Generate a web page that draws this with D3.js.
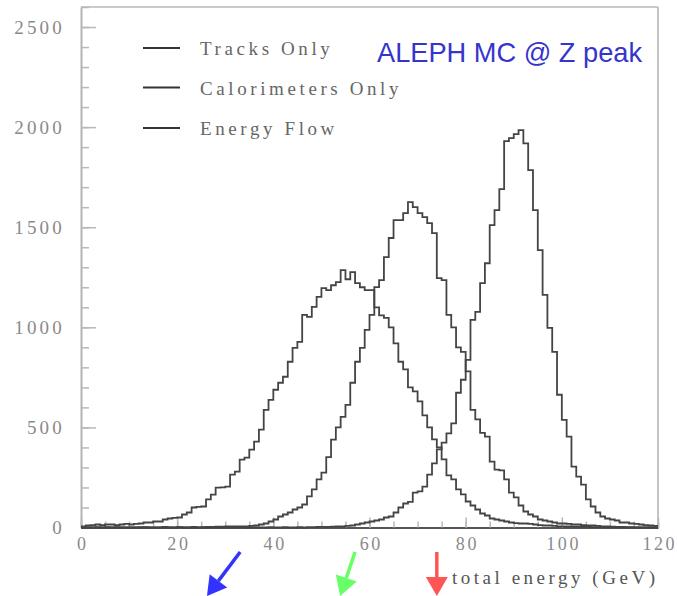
<!DOCTYPE html>
<html>
<head>
<meta charset="utf-8">
<script src="https://cdn.jsdelivr.net/npm/d3@7"></script>
<style>
  html, body { margin: 0; padding: 0; background: #fff; }
  svg { display: block; }
  .tick text { font-family: "Liberation Serif", "DejaVu Serif", serif; }
</style>
</head>
<body>
<div id="svg-container"></div>
<script>
////////////////////////////////////////////////////////////////////
//////////////////////////////  Data  ///////////////////////////////
// 1 GeV bins, 0..120 GeV
const tracksOnly = [
  5, 10, 12, 15, 12, 15, 15, 12, 15, 18,
  15, 18, 20, 25, 25, 30, 30, 40, 45, 48,
  50, 65, 75, 100, 103, 105, 140, 164, 199, 200,
  204, 264, 279, 339, 349, 389, 429, 489, 588, 638,
  688, 723, 753, 828, 897, 927, 1062, 1052, 1102, 1152,
  1196, 1186, 1210, 1226, 1286, 1240, 1276, 1221, 1200, 1186,
  1186, 1100, 1060, 1047, 1000, 920, 828, 790, 700, 680,
  630, 560, 500, 440, 400, 340, 260, 240, 190, 165,
  130, 110, 90, 70, 60, 45, 40, 35, 30, 25,
  22, 20, 20, 18, 15, 12, 10, 10, 8, 6,
  5, 5, 4, 4, 3, 3, 2, 2, 2, 1,
  1, 1, 1, 0, 0, 0, 0, 0, 0, 0
];
const calorimetersOnly = [
  0, 0, 0, 2, 0, 0, 0, 2, 0, 0,
  0, 0, 2, 0, 0, 0, 0, 3, 0, 0,
  2, 0, 0, 3, 0, 2, 3, 3, 4, 4,
  5, 5, 5, 5, 5, 8, 10, 15, 20, 30,
  40, 55, 65, 75, 90, 100, 115, 155, 190, 240,
  274, 352, 439, 500, 553, 613, 723, 828, 897, 987,
  1062, 1201, 1236, 1351, 1446, 1535, 1535, 1570, 1625, 1600,
  1570, 1550, 1520, 1470, 1246, 1236, 1062, 1000, 900, 877,
  780, 588, 540, 473, 454, 329, 289, 285, 240, 174,
  150, 110, 80, 65, 55, 40, 35, 30, 25, 20,
  20, 18, 15, 15, 12, 10, 10, 8, 6, 5,
  4, 3, 3, 2, 2, 1, 1, 1, 0, 0
];
const energyFlow = [
  0, 0, 0, 0, 0, 2, 0, 0, 0, 0,
  0, 0, 0, 2, 0, 0, 0, 0, 0, 0,
  2, 0, 0, 0, 0, 0, 0, 2, 0, 0,
  0, 0, 0, 2, 0, 0, 0, 0, 0, 2,
  0, 0, 2, 0, 0, 2, 0, 2, 2, 3,
  3, 3, 4, 5, 5, 8, 10, 15, 20, 25,
  30, 35, 40, 50, 55, 75, 100, 120, 128, 174,
  180, 204, 264, 320, 390, 424, 470, 520, 673, 738,
  837, 1037, 1077, 1221, 1320, 1510, 1585, 1690, 1930, 1945,
  1965, 1985, 1919, 1785, 1585, 1386, 1162, 997, 877, 663,
  538, 454, 304, 254, 214, 140, 105, 75, 55, 45,
  40, 35, 25, 25, 20, 18, 15, 12, 10, 8
];

const seriesNames = ["Tracks Only", "Calorimeters Only", "Energy Flow"];
const yTicks = [0, 500, 1000, 1500, 2000, 2500];
const xTicks = [0, 20, 40, 60, 80, 100, 120];
const xLabel = "total energy (GeV)";
const title = "ALEPH MC @ Z peak";

// arrows under the axis, tail and tip given in GeV
const arrows = [
  { color: "#3333ff", from: 33.1, to: 26.2 },
  { color: "#66ff66", from: 57.0, to: 53.9 },
  { color: "#ff5555", from: 74.0, to: 74.0 }
];

////////////////////////////////////////////////////////////////////
//////////////////////////////  Init  ///////////////////////////////
const width = 677, height = 596;
const svg = d3.select("#svg-container").append("svg")
  .attr("width", width).attr("height", height);
svg.append("rect").attr("width", width).attr("height", height).attr("fill", "#fff");

const xScale = d3.scaleLinear().domain([0, 120]).range([81, 658]);
const yScale = d3.scaleLinear().domain([0, 2600]).range([527.5, 7]);

const serif = "'Liberation Serif', 'DejaVu Serif', serif";
const fmt = d3.format("d");

// frame top & right
svg.append("line")
  .attr("x1", xScale(0)).attr("x2", xScale(120))
  .attr("y1", yScale(2600)).attr("y2", yScale(2600))
  .attr("stroke", "#b8b8b8").attr("stroke-width", 1.5);
svg.append("line")
  .attr("x1", xScale(120)).attr("x2", xScale(120))
  .attr("y1", yScale(2600)).attr("y2", yScale(0))
  .attr("stroke", "#c4c4c4").attr("stroke-width", 2);

// y axis
const yMinor = svg.append("g").attr("transform", `translate(${xScale(0)},0)`)
  .call(d3.axisLeft(yScale).tickValues(d3.range(0, 2601, 100)).tickSize(-8).tickSizeOuter(0).tickFormat(""));
const yMajor = svg.append("g").attr("transform", `translate(${xScale(0)},0)`)
  .call(d3.axisLeft(yScale).tickValues(yTicks).tickSize(-15).tickSizeOuter(0).tickPadding(16).tickFormat(fmt));
yMajor.select(".domain").remove();
yMinor.select(".domain").attr("stroke", "#b4b4b4").attr("stroke-width", 2);
svg.selectAll("g .tick line").attr("stroke", "#b8b8b8").attr("stroke-width", 1.5);
yMajor.selectAll("text")
  .attr("font-size", 19).attr("fill", "#8a8a8a")
  .attr("letter-spacing", 3.2);

// x axis
const xMinor = svg.append("g").attr("transform", `translate(0,${yScale(0)})`)
  .call(d3.axisBottom(xScale).tickValues(d3.range(0, 121, 5)).tickSize(-6).tickSizeOuter(0).tickFormat(""));
const xMajor = svg.append("g").attr("transform", `translate(0,${yScale(0)})`)
  .call(d3.axisBottom(xScale).tickValues(xTicks).tickSize(-10).tickSizeOuter(0).tickPadding(10).tickFormat(fmt));
xMajor.select(".domain").remove();
xMinor.select(".domain").attr("stroke", "#555").attr("stroke-width", 2);
svg.selectAll("g .tick line").attr("stroke", "#b8b8b8").attr("stroke-width", 1.5);
xMajor.selectAll("text")
  .attr("font-size", 18).attr("fill", "#8a8a8a")
  .attr("letter-spacing", 2.6).attr("dx", 1.3);

////////////////////////////////////////////////////////////////////
//////////////////////////////  Histos  /////////////////////////////
const line = d3.line()
  .x((d) => xScale(d[0]))
  .y((d) => yScale(d[1]))
  .curve(d3.curveStepAfter);

[tracksOnly, calorimetersOnly, energyFlow].forEach((vals) => {
  const pts = vals.map((v, i) => [i, v]);
  pts.push([vals.length, vals[vals.length - 1]]);
  svg.append("path")
    .datum(pts)
    .attr("d", line)
    .attr("fill", "none")
    .attr("stroke", "#444")
    .attr("stroke-width", 1.8);
});

// legend
const legend = svg.append("g");
const legendY = [48, 87.5, 128];
seriesNames.forEach((name, i) => {
  legend.append("line")
    .attr("x1", 143).attr("x2", 180)
    .attr("y1", legendY[i]).attr("y2", legendY[i])
    .attr("stroke", "#333").attr("stroke-width", 2);
  legend.append("text")
    .attr("x", 200).attr("y", legendY[i] + 7)
    .attr("font-family", serif).attr("font-size", 19)
    .attr("letter-spacing", 3.6)
    .attr("fill", "#666")
    .text(name);
});

// title
svg.append("text")
  .attr("x", 377).attr("y", 62)
  .attr("font-family", "'Liberation Sans', Arial, sans-serif")
  .attr("font-size", 27.5)
  .attr("textLength", 265).attr("lengthAdjust", "spacingAndGlyphs")
  .attr("fill", "#3535cc")
  .text(title);

// x label
svg.append("text")
  .attr("x", 452).attr("y", 584)
  .attr("font-family", serif).attr("font-size", 19)
  .attr("textLength", 203).attr("lengthAdjust", "spacing")
  .attr("fill", "#555")
  .text(xLabel);

// arrows
arrows.forEach((a) => {
  const x0 = xScale(a.from), y0 = 552;
  const x1 = xScale(a.to), y1 = 596;
  const dx = x1 - x0, dy = y1 - y0, len = Math.hypot(dx, dy);
  const ux = dx / len, uy = dy / len;
  const headLen = 19, halfW = 11;
  const bx = x1 - ux * headLen, by = y1 - uy * headLen;
  svg.append("line")
    .attr("x1", x0).attr("y1", y0).attr("x2", bx).attr("y2", by)
    .attr("stroke", a.color).attr("stroke-width", 3.5);
  svg.append("path")
    .attr("d", `M${x1},${y1}L${bx - uy * halfW},${by + ux * halfW}L${bx + uy * halfW},${by - ux * halfW}Z`)
    .attr("fill", a.color);
});
</script>
</body>
</html>
